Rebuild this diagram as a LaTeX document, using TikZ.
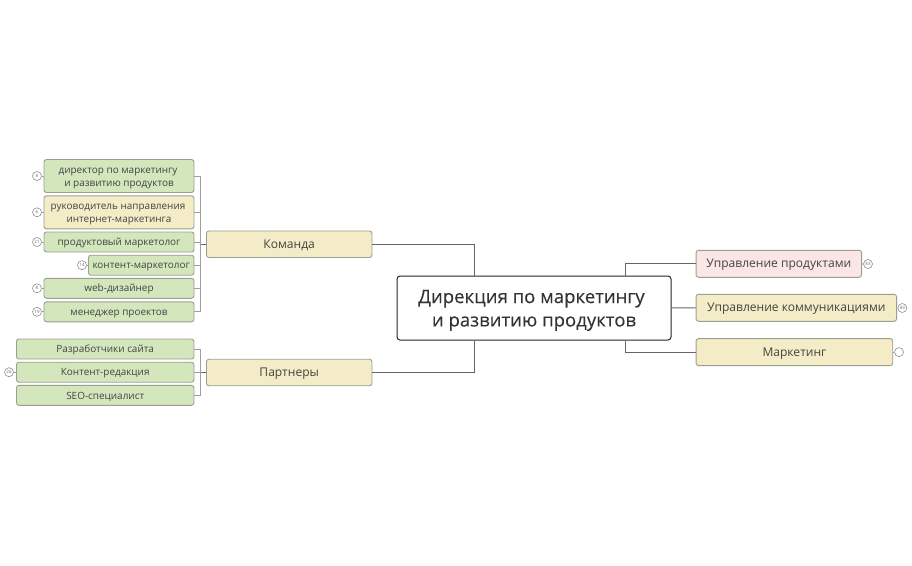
\documentclass[tikz,border=0pt]{standalone}
\usepackage{fontspec}
\setmainfont{Open Sans}
\newfontfamily\rootfont[FakeBold=.12]{Open Sans}
\definecolor{leafgreen}{HTML}{D3E6BC}
\definecolor{boxyellow}{HTML}{F3ECC6}
\definecolor{boxpink}{HTML}{FBE6E6}
\definecolor{boxline}{HTML}{9AA08F}
\definecolor{textgray}{HTML}{444444}
\definecolor{linegray}{HTML}{666666}
\tikzset{
  box/.style={draw=boxline,line width=.9pt,rounded corners=2.5pt,align=center,inner sep=0pt,text=textgray},
  leaf/.style={box,fill=leafgreen,font=\fontsize{9.95}{12.8}\selectfont,
    execute at begin node={\rule{0pt}{9.6pt}},execute at end node={\rule[-2pt]{0pt}{2pt}}},
  twoline/.style={leaf,align=flush center,text width=150pt,minimum height=33pt},
  branch/.style={box,fill=boxyellow,font=\fontsize{12.05}{15}\selectfont,
    execute at begin node={\rule{0pt}{11.2pt}},execute at end node={\rule[-2.8pt]{0pt}{2.8pt}}},
  root/.style={draw=black!85,line width=1pt,rounded corners=3pt,align=flush center,inner sep=0pt,text=black!80,fill=white,
    font=\rootfont\fontsize{18.55}{23.4}\selectfont,text width=274pt,
    execute at begin node={\rule{0pt}{18pt}},execute at end node={\rule[-4pt]{0pt}{4pt}}},
  badge/.style={circle,draw=gray,fill=white,line width=.5pt,minimum size=9pt,inner sep=0pt,text=black!60,
    font=\fontsize{4.4}{5}\selectfont},
  link/.style={draw=linegray,line width=1pt},
  spine/.style={draw=gray!75,line width=.9pt}
}
\begin{document}
\begin{tikzpicture}[x=1pt,y=-1pt]
  \useasboundingbox (0,0) rectangle (912,565);
  % center and first level
  \node[root,minimum height=64pt] (dir) at (534,308) {Дирекция по маркетингу\kern5pt\\и развитию продуктов};
  \node[branch,minimum width=165.5pt,minimum height=26.5pt] (team) at (289.2,244.2) {Команда};
  \node[branch,minimum width=165.5pt,minimum height=26.5pt] (partners) at (289.2,372.5) {Партнеры};
  \node[branch,fill=boxpink,minimum width=165.5pt,minimum height=27pt] (products) at (778.8,263.8) {Управление продуктами};
  \node[branch,minimum width=200.5pt,minimum height=27pt] (comms) at (796.3,307.8) {Управление коммуникациями};
  \node[branch,minimum width=196.7pt,minimum height=27pt] (marketing) at (794.4,352.1) {Маркетинг};
  % team
  \node[twoline] (director) at (119,176) {директор по маркетингу\kern2pt\\и развитию продуктов};
  \node[twoline,fill=boxyellow] (head) at (119,212.3) {руководитель направления\kern2pt\\интернет-маркетинга};
  \node[leaf,minimum width=150pt,minimum height=20pt] (product) at (119,242) {продуктовый маркетолог};
  \node[leaf,minimum width=105.5pt,minimum height=20pt] (content) at (141.2,265.2) {контент-маркетолог};
  \node[leaf,minimum width=150pt,minimum height=20pt] (web) at (119,288.3) {web-дизайнер};
  \node[leaf,minimum width=150pt,minimum height=20pt] (manager) at (119,311.8) {менеджер проектов};
  % partners
  \node[leaf,minimum width=177.5pt,minimum height=20pt] (devs) at (105.2,349) {Разработчики сайта};
  \node[leaf,minimum width=177.5pt,minimum height=20pt] (editors) at (105.2,372.2) {Контент-редакция};
  \node[leaf,minimum width=177.5pt,minimum height=20pt] (seo) at (105.2,395.3) {SEO-специалист};
  % badges
  \foreach\nm/\px/\py/\num in {bdirector/37/176/8,bhead/37/212.3/6,bproduct/37/242/21,
      bcontent/82/265.2/14,bweb/37/288.3/8,bmanager/37/311.8/19,beditors/9/372.2/26}
    \node[badge] (\nm) at (\px,\py) {\num};
  \node[badge] (bproducts) at (868,264) {83};
  \node[badge] (bcomms) at (902.3,308) {83};
  \node[badge] (bmarketing) at (899,352.1) {};
  \foreach\a/\b in {bdirector/director,bhead/head,bproduct/product,bcontent/content,bweb/web,bmanager/manager,beditors/editors,
      bproducts/products,bcomms/comms,bmarketing/marketing}
    \draw[spine] (\a)--(\b);
  % connectors
  \draw[link] (team.east)-|(dir.north-|474,0);
  \draw[link] (partners.east)-|(dir.south-|474,0);
  \draw[link] (products.west)-|(dir.north-|625.5,0);
  \draw[link] (dir.east)--(comms.west);
  \draw[link] (marketing.west)-|(dir.south-|625.5,0);
  \coordinate (teambus) at (200.5,244.2);
  \coordinate (partnersbus) at (200.5,372.5);
  \draw[link] (team.west)--(teambus);
  \draw[link] (partners.west)--(partnersbus);
  \foreach\c in {director,head,product,content,web,manager}
    \draw[spine] (teambus)|-(\c.east);
  \foreach\c in {devs,editors,seo}
    \draw[spine] (partnersbus)|-(\c.east);
\end{tikzpicture}
\end{document}
